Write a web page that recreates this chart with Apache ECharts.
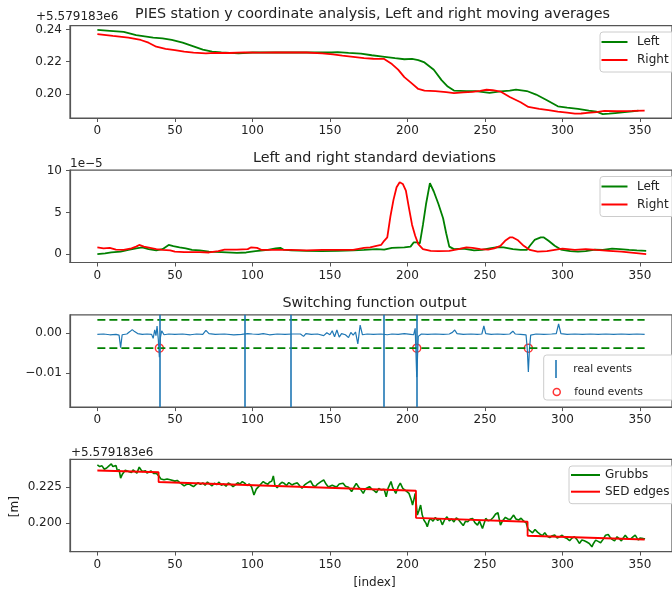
<!DOCTYPE html>
<html>
<head>
<meta charset="utf-8">
<script src="https://cdn.jsdelivr.net/npm/echarts@6/dist/echarts.min.js"></script>
<style>
  html, body { margin: 0; padding: 0; background: #fff; }
  #chart { width: 672px; height: 591px; }
</style>
</head>
<body>
<div id="chart"></div>
<script>
// tick values
const xTicks = [0, 50, 100, 150, 200, 250, 300, 350]
const meanTicks = [0.20, 0.22, 0.24]
const stdTicks = [0, 5, 10]
const switchTicks = [-0.01, 0.00]
const edgeTicks = [0.200, 0.225]

// panel 1: moving averages (offset +5.579183e6), [index, value]
const leftMean = [[0,0.2398],[8,0.2392],[17,0.2385],[25,0.2365],[36,0.2350],[42,0.2345],[48,0.2335],[55,0.2318],[62,0.2295],[68,0.2275],[74,0.2262],[80,0.2258],[91,0.2252],[100,0.2257],[110,0.2258],[120,0.2257],[130,0.2258],[140,0.2257],[151,0.2257],[155,0.2260],[162,0.2255],[170,0.2250],[177,0.2240],[184,0.2232],[192,0.2222],[198,0.2215],[203,0.2217],[207,0.2210],[211,0.2195],[217,0.2150],[222,0.2085],[226,0.2045],[230,0.2020],[238,0.2017],[244,0.2017],[253,0.2005],[260,0.2015],[266,0.2020],[270,0.2026],[277,0.2017],[283,0.1995],[290,0.1960],[297,0.1922],[303,0.1913],[310,0.1906],[317,0.1895],[322,0.1888],[326,0.1873],[330,0.1876],[334,0.1880],[340,0.1885],[345,0.1890],[349,0.1895]]
const rightMean = [[0,0.2371],[10,0.2360],[20,0.2350],[28,0.2335],[33,0.2318],[38,0.2293],[44,0.2280],[50,0.2272],[56,0.2262],[62,0.2256],[70,0.2252],[76,0.2255],[85,0.2254],[95,0.2258],[105,0.2256],[115,0.2258],[125,0.2257],[135,0.2257],[145,0.2252],[152,0.2245],[158,0.2237],[165,0.2230],[172,0.2222],[178,0.2218],[185,0.2217],[190,0.2185],[194,0.2150],[198,0.2104],[203,0.2063],[207,0.2030],[211,0.2020],[218,0.2017],[225,0.2010],[230,0.2004],[236,0.2008],[242,0.2012],[247,0.2018],[251,0.2025],[255,0.2022],[260,0.2014],[266,0.1980],[273,0.1947],[278,0.1918],[285,0.1906],[291,0.1898],[297,0.1889],[303,0.1882],[308,0.1876],[312,0.1877],[316,0.1881],[322,0.1885],[327,0.1893],[335,0.1891],[345,0.1893],[353,0.1895]]

// panel 2: standard deviations (x 1e-5)
const leftStd = [[0,0.0],[5,0.1],[9,0.2],[15,0.3],[20,0.5],[25,0.7],[29,0.8],[33,0.6],[38,0.45],[42,0.6],[46,1.1],[49,0.95],[53,0.8],[57,0.7],[61,0.5],[66,0.45],[72,0.3],[80,0.25],[90,0.15],[96,0.2],[102,0.35],[110,0.5],[115,0.7],[118,0.75],[120,0.55],[125,0.45],[135,0.4],[145,0.35],[155,0.4],[165,0.45],[172,0.5],[180,0.6],[185,0.55],[190,0.75],[198,0.8],[202,0.9],[204,1.4],[206,1.4],[208,1.3],[210,3.5],[212,6.0],[214.5,8.5],[217,7.5],[220,6.0],[223,4.3],[225,2.5],[227,0.9],[230,0.6],[236,0.65],[243,0.45],[248,0.5],[253,0.7],[258,0.85],[262,0.8],[268,0.6],[273,0.5],[277,0.5],[279,1.0],[282,1.7],[286,2.0],[288,2.0],[291,1.6],[295,1.0],[299,0.55],[305,0.35],[310,0.3],[315,0.35],[321,0.55],[326,0.5],[332,0.65],[337,0.6],[343,0.5],[348,0.45],[354,0.4]]
const rightStd = [[0,0.8],[4,0.7],[8,0.75],[12,0.55],[17,0.5],[22,0.7],[25,0.9],[27,1.1],[30,0.9],[34,0.75],[38,0.6],[42,0.5],[47,0.45],[50,0.3],[56,0.25],[66,0.25],[72,0.2],[78,0.35],[82,0.55],[90,0.55],[97,0.6],[99,0.8],[103,0.75],[106,0.5],[115,0.5],[125,0.5],[135,0.45],[145,0.5],[155,0.5],[165,0.5],[172,0.75],[176,0.8],[180,1.0],[183,1.1],[185,1.6],[187,2.0],[189,4.5],[191,6.5],[193,8.0],[195,8.6],[197,8.4],[199,7.6],[201,5.5],[203,3.5],[205,2.2],[207,1.2],[210,0.6],[215,0.4],[220,0.35],[227,0.4],[233,0.6],[238,0.8],[242,0.75],[247,0.6],[252,0.55],[256,0.7],[260,1.0],[263,1.6],[266,2.0],[268,2.0],[271,1.7],[275,1.0],[279,0.5],[284,0.3],[290,0.35],[296,0.55],[300,0.65],[308,0.5],[315,0.6],[322,0.5],[330,0.4],[338,0.3],[346,0.15],[354,0.0]]

// panel 3: switching function
const switching = [[0,-0.0003],[4,-0.0002],[8,-0.0004],[12,-0.0003],[14,-0.0005],[15,-0.0036],[16,-0.0004],[19,-0.0002],[21,0.0004],[22.5,0.0009],[24,0.0004],[26,-0.0001],[29,-0.0003],[32,-0.0002],[35,-0.0003],[36,-0.0013],[37,0.0008],[37.8,-0.0006],[38.5,0.0018],[39.3,-0.0015],[40,-0.0060],[40.7,-0.0010],[41.5,0.0006],[43,-0.0004],[46,-0.0002],[50,-0.0003],[55,-0.0002],[60,-0.0004],[64,-0.0002],[68,-0.0003],[70,0.0007],[72,-0.0001],[76,-0.0003],[82,-0.0002],[88,-0.0004],[93,-0.0003],[97,-0.0001],[100,-0.0002],[104,-0.0003],[107,-0.0001],[111,-0.0004],[116,-0.0002],[121,-0.0003],[126,-0.0002],[131,-0.0002],[133,-0.0008],[134.5,-0.0001],[138,-0.0003],[142,-0.0002],[146,-0.0006],[148,0.0001],[150,-0.0004],[151.5,0.0006],[153,-0.0009],[154.5,0.0008],[156,-0.0010],[157.5,-0.0001],[160,-0.0004],[162,-0.0011],[163.5,0.0002],[165,-0.0005],[166.5,0.0003],[168,-0.0027],[169.5,0.0020],[171,-0.0004],[174,-0.0002],[178,-0.0003],[183,-0.0002],[187,-0.0004],[190,-0.0002],[194,-0.0003],[198,-0.0001],[202,-0.0003],[204,-0.0004],[205,0.0012],[206,-0.0110],[207,-0.0008],[209,-0.0002],[213,-0.0003],[218,-0.0002],[223,-0.0003],[227,-0.0002],[229,0.0002],[230.5,0.0008],[232,-0.0001],[236,-0.0003],[241,-0.0002],[245,-0.0003],[248,-0.0002],[249.3,0.0018],[250.5,-0.0001],[254,-0.0003],[258,-0.0002],[262,-0.0003],[266,-0.0002],[268,0.0005],[269.5,-0.0002],[273,-0.0003],[276.5,-0.0004],[277.3,-0.0040],[278,-0.0097],[278.7,-0.0040],[279.5,-0.0005],[283,-0.0002],[288,-0.0003],[293,-0.0002],[296,-0.0001],[297.5,0.0023],[299,-0.0001],[303,-0.0003],[308,-0.0002],[313,-0.0003],[318,-0.0002],[323,-0.0003],[328,-0.0002],[333,-0.0003],[338,-0.0002],[343,-0.0003],[348,-0.0002],[353,-0.0003]]
const thresholds = [0.00333, -0.00375]
const thresholdSpan = [0, 353]
const realEvents = [40, 95, 125, 185, 206]
const foundEvents = [40, 206, 278]

// panel 4: Grubbs filtered data and SED edge fit
const grubbs = [[0,0.2402],[1.5,0.2390],[3,0.2395],[4.5,0.2372],[6,0.2380],[7.5,0.2395],[9,0.2409],[10,0.2390],[11,0.2383],[12,0.2398],[13,0.2356],[14,0.2370],[15,0.2310],[16,0.2335],[17,0.2345],[18,0.2365],[19,0.2375],[20.5,0.2355],[22,0.2349],[23,0.2368],[24,0.2367],[25.5,0.2345],[27,0.2386],[28,0.2370],[29,0.2356],[30,0.2362],[31,0.2362],[32,0.2345],[33,0.2351],[34.5,0.2360],[35,0.2362],[36.5,0.2342],[38,0.2345],[39,0.2338],[40,0.2321],[41,0.2305],[42,0.2294],[43,0.2300],[44,0.2287],[45,0.2305],[46,0.2318],[47,0.2300],[48,0.2294],[50,0.2290],[51.5,0.2295],[53,0.2281],[54.5,0.2270],[56,0.2257],[57.5,0.2268],[59,0.2271],[60.5,0.2262],[62,0.2252],[63.5,0.2266],[65,0.2280],[66.5,0.2268],[68,0.2278],[69.5,0.2262],[71,0.2284],[72.5,0.2270],[74,0.2258],[75.5,0.2276],[77,0.2266],[78.5,0.2283],[80,0.2262],[81.5,0.2270],[83,0.2255],[84.5,0.2278],[86,0.2268],[87.5,0.2252],[89,0.2264],[90.5,0.2279],[92,0.2270],[93.5,0.2287],[95,0.2276],[96.5,0.2260],[98,0.2270],[99.5,0.2250],[101,0.2195],[102.5,0.2235],[104,0.2252],[105.5,0.2270],[107,0.2287],[108.5,0.2275],[110,0.2268],[111,0.2282],[112.5,0.2290],[113.5,0.2326],[114.5,0.2262],[116,0.2245],[117.5,0.2268],[119,0.2282],[120.5,0.2275],[122,0.2260],[123.5,0.2280],[125.5,0.2264],[127,0.2272],[129,0.2278],[130.5,0.2258],[132,0.2241],[133.5,0.2262],[135,0.2275],[137.5,0.2291],[139,0.2262],[140.5,0.2252],[142,0.2270],[144,0.2285],[146,0.2298],[147.5,0.2270],[149,0.2250],[150,0.2241],[151.5,0.2262],[153,0.2255],[154.5,0.2252],[156,0.2270],[158.5,0.2275],[160,0.2255],[162,0.2248],[164,0.2218],[165.5,0.2248],[167,0.2275],[168.5,0.2250],[170,0.2230],[171.5,0.2206],[173,0.2238],[175.5,0.2252],[177,0.2235],[178.5,0.2225],[180,0.2211],[181.5,0.2240],[183,0.2230],[185,0.2234],[186.3,0.2183],[187.5,0.2240],[189.4,0.2287],[190.5,0.2245],[192.5,0.2206],[194,0.2250],[195.4,0.2276],[197,0.2240],[198,0.2229],[199.5,0.2220],[201,0.2206],[202.5,0.2160],[203.3,0.2126],[204.2,0.2165],[205,0.2206],[206.4,0.2057],[207.5,0.2090],[208.5,0.2126],[209.5,0.2060],[210.6,0.2023],[212,0.2000],[212.8,0.1977],[214,0.2020],[215,0.2034],[216.5,0.2015],[218,0.2040],[219.5,0.2020],[221,0.2032],[222.5,0.1990],[224,0.2025],[225.5,0.2045],[227,0.2018],[228.5,0.2030],[230,0.2010],[231.5,0.2038],[233,0.2025],[234.5,0.2005],[236,0.1985],[237.5,0.2015],[238.9,0.2011],[240.5,0.2030],[242,0.2034],[243.5,0.2005],[245.2,0.1988],[246.5,0.2015],[248.4,0.1965],[250.5,0.2034],[252,0.2018],[253.7,0.2023],[255.3,0.2040],[256.9,0.2064],[258.4,0.2073],[260,0.1988],[261.5,0.2020],[263.2,0.2041],[264.8,0.2030],[266.4,0.2027],[268.5,0.2057],[270,0.2030],[271.7,0.2023],[273.3,0.2035],[274.9,0.2016],[276.5,0.2005],[277.8,0.1960],[279.1,0.1949],[280.7,0.1935],[282.3,0.1958],[283.9,0.1940],[285.5,0.1926],[287,0.1915],[288.6,0.1935],[290.2,0.1912],[291.8,0.1903],[293.4,0.1915],[295,0.1919],[296.6,0.1900],[298.2,0.1908],[299.8,0.1918],[301.4,0.1903],[303,0.1895],[304.6,0.1881],[306.2,0.1900],[307.7,0.1908],[309.3,0.1890],[310.9,0.1862],[312.5,0.1885],[314.1,0.1880],[315.7,0.1872],[317.3,0.1862],[319,0.1839],[320,0.1862],[321.4,0.1885],[323,0.1876],[324.6,0.1867],[326.2,0.1890],[327.8,0.1919],[329.5,0.1924],[330.7,0.1905],[332,0.1890],[333.6,0.1880],[335.2,0.1908],[336.6,0.1895],[338,0.1880],[339.2,0.1900],[340.5,0.1919],[342,0.1898],[343.7,0.1890],[345.3,0.1905],[346.9,0.1919],[348,0.1900],[349,0.1885],[350,0.1900],[351.1,0.1908],[352.2,0.1895],[353.3,0.1894]]
const sedEdges = [[0,0.2363],[39.5,0.2351],[39.5,0.2284],[205.5,0.2224],[205.5,0.2038],[277.5,0.2011],[277.5,0.1915],[353,0.1889]]

const FONT = '"DejaVu Sans"'
const GREEN = '#008000'
const RED = '#ff0000'
const BLUE = '#1f77b4'
const TEXT = '#222'
const SPINE = '#555'

const gridLeft = 70
const gridWidth = 609
const gridHeight = 92.3
const gridTops = [25.7, 170.2, 314.8, 459.3]
const yRanges = [[0.1849, 0.2424], [-1, 10.05], [-0.0185, 0.0046], [0.1806, 0.2440]]
const yTickSets = [meanTicks, stdTicks, switchTicks, edgeTicks]
const yFormat = [
  v => v.toFixed(2),
  v => String(Math.round(v)),
  v => v.toFixed(2).replace('-', '\u2212'),
  v => v.toFixed(3)
]

const chart = echarts.init(document.getElementById('chart'), null, { renderer: 'canvas' })

const grids = gridTops.map(t => ({
  left: gridLeft, top: t, width: gridWidth, height: gridHeight,
  show: true, borderColor: SPINE, borderWidth: 1.2, backgroundColor: 'transparent'
}))

const xAxes = gridTops.map((t, i) => ({
  type: 'value', gridIndex: i, min: -17.65, max: 370.65,
  axisLine: { show: true, onZero: false, lineStyle: { color: SPINE, width: 1.2 } },
  splitLine: { show: false },
  axisTick: { show: true, length: 4, customValues: xTicks, lineStyle: { color: SPINE } },
  axisLabel: { customValues: xTicks, margin: 7, color: TEXT, fontSize: 12, fontFamily: FONT }
}))

const yAxes = gridTops.map((t, i) => ({
  type: 'value', gridIndex: i, min: yRanges[i][0], max: yRanges[i][1],
  axisLine: { show: true, onZero: false, lineStyle: { color: SPINE, width: 1.2 } },
  splitLine: { show: false },
  axisTick: { show: true, length: 4, customValues: yTickSets[i], lineStyle: { color: SPINE } },
  axisLabel: { customValues: yTickSets[i], margin: 8, color: TEXT, fontSize: 12, fontFamily: FONT, formatter: yFormat[i] }
}))

function line(name, idx, data, color, width, extra) {
  return Object.assign({
    name, type: 'line', xAxisIndex: idx, yAxisIndex: idx, data,
    color, showSymbol: false, symbol: 'none', silent: true,
    lineStyle: { color, width }, itemStyle: { color }
  }, extra || {})
}

const series = [
  line('Left', 0, leftMean, GREEN, 1.8),
  line('Right', 0, rightMean, RED, 1.8),
  line('Left', 1, leftStd, GREEN, 1.8),
  line('Right', 1, rightStd, RED, 1.8),
  line('switching', 2, switching, BLUE, 1.2),
  ...thresholds.map(v => line('threshold', 2, thresholdSpan.map(x => [x, v]), GREEN, 1.6,
    { lineStyle: { color: GREEN, width: 1.6, type: [8, 4] } })),
  line('real events', 2, [], BLUE, 1.6, {
    markLine: {
      silent: true, symbol: ['none', 'none'], label: { show: false },
      lineStyle: { color: BLUE, width: 1.6, type: 'solid' },
      data: realEvents.map(x => ({ xAxis: x }))
    }
  }),
  {
    name: 'found events', type: 'scatter', xAxisIndex: 2, yAxisIndex: 2, silent: true,
    symbol: 'circle', symbolSize: 8,
    itemStyle: { color: 'rgba(0,0,0,0)', borderColor: RED, borderWidth: 1.5 },
    data: foundEvents.map(x => [x, thresholds[1]])
  },
  line('Grubbs', 3, grubbs, GREEN, 1.6),
  line('SED edges', 3, sedEdges, RED, 1.8)
]

const legendText = { fontSize: 12, fontFamily: FONT, color: TEXT, lineHeight: 14 }
const boxStyle = {
  orient: 'vertical', icon: 'rect', itemHeight: 2, selectedMode: false,
  backgroundColor: 'rgba(255,255,255,0.8)', borderColor: '#cccccc', borderWidth: 1, borderRadius: 3
}
const legends = [
  Object.assign({}, boxStyle, { left: 600, top: 32, data: ['Left', 'Right'], itemWidth: 26, itemGap: 4,
    padding: [3, 10, 5, 1.5], textStyle: Object.assign({ padding: [0, 0, 0, 4.5] }, legendText) }),
  Object.assign({}, boxStyle, { left: 600, top: 176.5, data: ['Left', 'Right'], itemWidth: 26, itemGap: 4,
    padding: [3, 10, 5, 1.5], textStyle: Object.assign({ padding: [0, 0, 0, 4.5] }, legendText) }),
  { left: 555.2, top: 360, data: ['real events'], icon: 'rect', itemWidth: 1.6, itemHeight: 18, padding: 0,
    selectedMode: false, textStyle: { fontSize: 10.5, fontFamily: FONT, color: TEXT, padding: [0, 0, 0, 11.5] } },
  { left: 552.5, top: 386.5, itemWidth: 7, itemHeight: 7, padding: 0, selectedMode: false,
    data: [{ name: 'found events', icon: 'circle', itemStyle: { color: 'rgba(0,0,0,0)', borderColor: RED, borderWidth: 1.5 } }],
    textStyle: { fontSize: 10.5, fontFamily: FONT, color: TEXT, padding: [0, 0, 0, 9] } },
  Object.assign({}, boxStyle, { left: 569, top: 466, data: ['Grubbs', 'SED edges'], itemWidth: 29, itemGap: 2.7,
    padding: [2, 10, 5, 2], textStyle: legendText })
]

function txt(text, x, y, size, align, extra) {
  return Object.assign({
    type: 'text', x, y, silent: true, z: 10,
    style: { text, font: size + 'px ' + FONT, fill: TEXT, align: align || 'center', verticalAlign: 'middle' }
  }, extra || {})
}

const axisCenter = gridLeft + gridWidth / 2

chart.setOption({
  animation: false,
  textStyle: { fontFamily: FONT },
  grid: grids,
  xAxis: xAxes,
  yAxis: yAxes,
  legend: legends,
  series,
  graphic: [
    { type: 'rect', z: 3, silent: true, shape: { x: 543.7, y: 355, width: 150, height: 45, r: 3 },
      style: { fill: 'rgba(255,255,255,0.8)', stroke: '#cccccc', lineWidth: 1 } },
    txt('PIES station y coordinate analysis, Left and right moving averages', axisCenter - 2, 14, 14.3),
    txt('Left and right standard deviations', axisCenter, 158.5, 14.3),
    txt('Switching function output', axisCenter, 303.5, 14.3),
    txt('+5.579183e6', 36, 17, 12, 'left'),
    txt('1e\u22125', 70, 163.5, 12, 'left'),
    txt('+5.579183e6', 71, 452.7, 12, 'left'),
    txt('[m]', 15, 506.7, 12, 'center', { rotation: Math.PI / 2 }),
    txt('[index]', axisCenter, 582.7, 12)
  ]
})
</script>
</body>
</html>
